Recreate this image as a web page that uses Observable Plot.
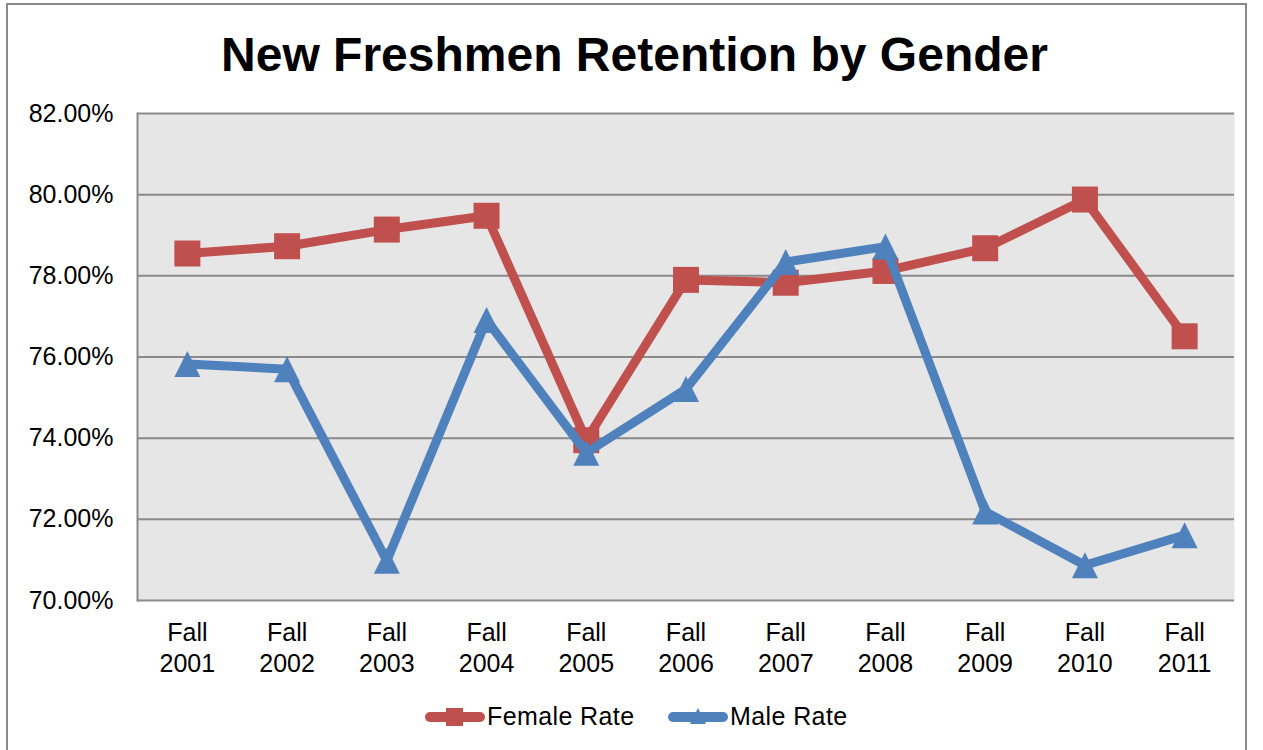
<!DOCTYPE html>
<html>
<head>
<meta charset="utf-8">
<script src="https://cdn.jsdelivr.net/npm/d3@7"></script>
<script src="https://cdn.jsdelivr.net/npm/@observablehq/plot@0.6"></script>
<style>
  html, body { margin: 0; padding: 0; background: #fff; }
  #wrap { position: relative; width: 1263px; height: 750px; overflow: hidden; font-family: "Liberation Sans", Arial, sans-serif; }
  #border { position: absolute; left: 6px; top: 3px; width: 1241px; height: 760px; border: 2px solid #8a8a8a; box-sizing: border-box; }
  #title { position: absolute; left: 7px; width: 1255px; top: 31px; line-height: 48px; font-size: 48px; font-weight: bold; text-align: center; color: #000; }
  #chart { position: absolute; left: 0; top: 0; }
  .leg { position: absolute; top: 704px; line-height: 25px; font-size: 25px; color: #000; white-space: nowrap; letter-spacing: 0.4px; }
  .sw { position: absolute; top: 706px; }
</style>
</head>
<body>
<div id="wrap">
  <div id="border"></div>
  <div id="chart"></div>
  <div id="title">New Freshmen Retention by Gender</div>
  <svg class="sw" style="left:423px" width="64" height="22">
    <line x1="7" y1="11" x2="57" y2="11" stroke="#C0504D" stroke-width="10" stroke-linecap="round"/>
    <rect x="23" y="2" width="17" height="18" fill="#C0504D"/>
  </svg>
  <span class="leg" style="left:487px">Female Rate</span>
  <svg class="sw" style="left:666px" width="64" height="22">
    <line x1="7" y1="11" x2="57" y2="11" stroke="#4F81BD" stroke-width="10" stroke-linecap="round"/>
    <path d="M32,2 L40,18 L24,18 Z" fill="#4F81BD"/>
  </svg>
  <span class="leg" style="left:730px">Male Rate</span>
</div>
<script>
const years = ["2001","2002","2003","2004","2005","2006","2007","2008","2009","2010","2011"];
const femaleRate = [78.55, 78.73, 79.14, 79.48, 73.95, 77.90, 77.83, 78.12, 78.68, 79.88, 76.51];
const maleRate   = [75.83, 75.70, 70.98, 76.91, 73.64, 75.21, 78.34, 78.72, 72.19, 70.87, 71.61];
const yTicks = [70, 72, 74, 76, 78, 80, 82];

const female = years.map((y, i) => ({year: y, value: femaleRate[i]}));
const male = years.map((y, i) => ({year: y, value: maleRate[i]}));

const squareSym = { draw(ctx, size) { const a = Math.sqrt(size / Math.PI); ctx.rect(-a, -a, 2 * a, 2 * a); } };
const triSym = { draw(ctx, size) { const a = Math.sqrt(size / Math.PI); ctx.moveTo(0, -a); ctx.lineTo(a, a); ctx.lineTo(-a, a); ctx.closePath(); } };

const chart = Plot.plot({
  width: 1263,
  height: 750,
  marginLeft: 137,
  marginRight: 29,
  marginTop: 113,
  marginBottom: 150,
  style: { fontFamily: "Liberation Sans, Arial, sans-serif", color: "#000", background: "transparent", overflow: "visible" },
  x: { type: "point", domain: years, padding: 0.5, round: false, label: null },
  y: { domain: [70, 82], label: null },
  marks: [
    Plot.frame({ fill: "#e6e6e6", stroke: null }),
    Plot.gridY(yTicks, { stroke: "#8a8a8a", strokeOpacity: 1, strokeWidth: 2 }),
    Plot.frame({ anchor: "left", stroke: "#8a8a8a", strokeWidth: 2 }),
    Plot.axisY(yTicks, { tickFormat: d => d.toFixed(2) + "%", tickSize: 0, tickPadding: 24, fontSize: 25, label: null }),
    Plot.axisX({ tickFormat: d => "Fall\n" + d, tickSize: 0, tickPadding: 18, fontSize: 25, lineHeight: 1.24, label: null }),
    Plot.line(female, { x: "year", y: "value", stroke: "#C0504D", strokeWidth: 9, strokeLinejoin: "round" }),
    Plot.dot(female, { x: "year", y: "value", symbol: squareSym, r: 13, fill: "#C0504D", stroke: null }),
    Plot.line(male, { x: "year", y: "value", stroke: "#4F81BD", strokeWidth: 9, strokeLinejoin: "round" }),
    Plot.dot(male, { x: "year", y: "value", symbol: triSym, r: 13, fill: "#4F81BD", stroke: null })
  ]
});
document.getElementById("chart").appendChild(chart);
</script>
</body>
</html>
